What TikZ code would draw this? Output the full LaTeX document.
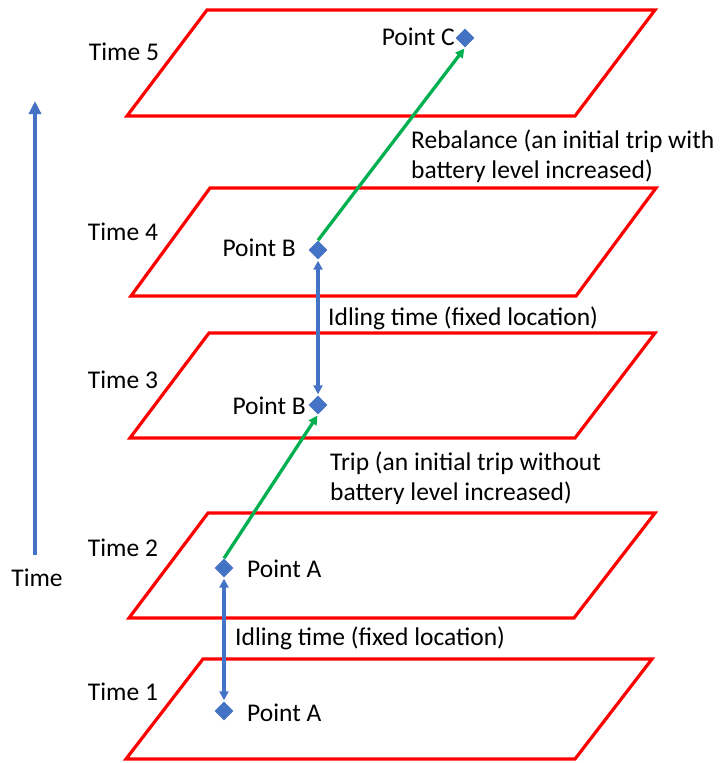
\documentclass[tikz,border=0pt]{standalone}
\usepackage{fontspec}
\setmainfont{Carlito}
\usetikzlibrary{shapes.geometric,arrows.meta}
\definecolor{pblue}{RGB}{68,114,196}
\definecolor{pgreen}{RGB}{0,176,80}
\begin{document}
\begin{tikzpicture}[x=1pt,y=-1pt,
  plane/.style={draw=red,line width=3.2pt,line join=miter},
  pt/.style={diamond,fill=pblue,draw=none,minimum size=19pt,inner sep=0pt},
  lbl/.style={font=\fontsize{25.5}{30}\selectfont,inner sep=0pt,text=black},
  txt/.style={font=\fontsize{25.5}{30}\selectfont,inner sep=0pt,anchor=base west},
  idle/.style={draw=pblue,line width=3.3pt,{Triangle[length=9pt,width=9pt]}-{Triangle[length=9pt,width=9pt]},shorten <=1pt,shorten >=1pt},
  move/.style={draw=pgreen,line width=3.3pt,-{Triangle[length=9pt,width=9pt]},shorten >=1pt}]
\useasboundingbox (0,0) rectangle (725,763);
% planes
\draw[plane] (207,10) -- (655,10) -- (575,116) -- (127,116) -- cycle;
\draw[plane] (210,188) -- (656,188) -- (576,296) -- (131,296) -- cycle;
\draw[plane] (209,333) -- (655,333) -- (575,438) -- (130,438) -- cycle;
\draw[plane] (208,513) -- (655,513) -- (574,618) -- (129,618) -- cycle;
\draw[plane] (203,659) -- (652,659) -- (575,759) -- (126,759) -- cycle;
% time labels
\node[lbl] (t5) at (124,52) {Time 5};
\node[lbl] (t4) at (123,232) {Time 4};
\node[lbl] (t3) at (123,380) {Time 3};
\node[lbl] (t2) at (123,548) {Time 2};
\node[lbl] (t1) at (123,692) {Time 1};
% time axis
\node[lbl] (time) at (37,578) {Time};
\coordinate (axtop) at (35,101);
\coordinate (axbot) at (35,555);
\draw[draw=pblue,line width=3.3pt,-{Triangle[length=13pt,width=12pt]}] (axbot) -- (axtop);
% points
\node[pt] (C) at (465,38) {};
\node[pt] (B4) at (318,250) {};
\node[pt] (B3) at (318,405) {};
\node[pt] (A2) at (224,568) {};
\node[pt] (A1) at (224,711) {};
\node[lbl,anchor=east] (lC) at (455,37) {Point C};
\node[lbl,anchor=east] (lB4) at (296,248) {Point B};
\node[lbl,anchor=east] (lB3) at (306,406) {Point B};
\node[lbl,anchor=west] (lA2) at (247,569) {Point A};
\node[lbl,anchor=west] (lA1) at (247,713) {Point A};
% connectors
\draw[idle] (A1) -- (A2);
\draw[idle] (B3) -- (B4);
\draw[move] (A2.north) -- (B3.south);
\draw[move] (B4.north) -- (C.south);
% texts
\node[txt] (reb1) at (411,148) {Rebalance (an initial trip with};
\node[txt] (reb2) at (411,178) {battery level increased)};
\node[txt] (idle2) at (328,325) {Idling time (fixed location)};
\node[txt] (trip1) at (330,470) {Trip (an initial trip without};
\node[txt] (trip2) at (330,500) {battery level increased)};
\node[txt] (idle1) at (235,645) {Idling time (fixed location)};
\end{tikzpicture}
\end{document}
